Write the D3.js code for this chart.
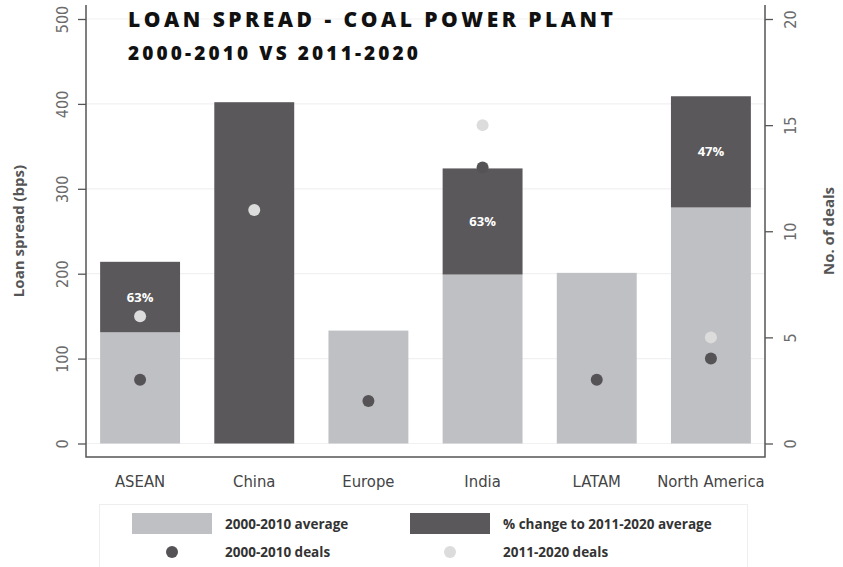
<!DOCTYPE html>
<html>
<head>
<meta charset="utf-8">
<script src="https://cdn.jsdelivr.net/npm/d3@7"></script>
<style>
  html, body { margin: 0; padding: 0; background: #fff; }
  svg { display: block; }
</style>
</head>
<body>
<svg id="chart" width="843" height="567"></svg>
<script>
// ---------------- DATA ----------------
const categories = ["ASEAN", "China", "Europe", "India", "LATAM", "North America"];
const avg2000_2010 = [131, null, 133, 199, 201, 278];     // bps
const avg2011_2020 = [214, 402, null, 324, null, 409];    // bps
const pctChange = [63, null, null, 63, null, 47];         // %
const deals2000_2010 = [3, null, 2, 13, 3, 4];
const deals2011_2020 = [6, 11, null, 15, null, 5];
const leftTicks = [0, 100, 200, 300, 400, 500];
const rightTicks = [0, 5, 10, 15, 20];
const title = "LOAN SPREAD - COAL POWER PLANT";
const subtitle = "2000-2010 VS 2011-2020";
const leftAxisTitle = "Loan spread (bps)";
const rightAxisTitle = "No. of deals";
const legendLabels = ["2000-2010 average", "% change to 2011-2020 average", "2000-2010 deals", "2011-2020 deals"];

// ---------------- STYLE ----------------
const C_LIGHT = "#bfc0c4", C_DARK = "#5a585a", C_DOT_DARK = "#555356", C_DOT_LIGHT = "#dcdcdc";
const AXIS = "#555";
const narrow = "'Liberation Sans Narrow', 'DejaVu Sans Condensed', 'Roboto', sans-serif";
const bold = "'Open Sans', 'Noto Sans', sans-serif";

const svg = d3.select("#chart");
const L = 86, R = 765, T = 5, B = 457;

const x = d3.scaleBand().domain(categories).range([83, 768]).paddingInner(0.3).paddingOuter(0.15);
const y = d3.scaleLinear().domain([0, 500]).range([443.5, 19]);
const y2 = d3.scaleLinear().domain([0, 20]).range([443.5, 19]);

const rows = categories.map((c, i) => ({
  c, base: avg2000_2010[i], total: avg2011_2020[i], pct: pctChange[i],
  d1: deals2000_2010[i], d2: deals2011_2020[i]
}));

// gridlines
svg.append("g").selectAll("line").data(leftTicks).join("line")
  .attr("x1", L).attr("x2", R).attr("y1", d => y(d)).attr("y2", d => y(d))
  .attr("stroke", "#f1f1f1").attr("stroke-width", 1.2);

// bars
const bars = svg.append("g");
bars.selectAll("rect.base").data(rows.filter(d => d.base != null)).join("rect")
  .attr("class", "base")
  .attr("x", d => x(d.c)).attr("width", x.bandwidth())
  .attr("y", d => y(d.base)).attr("height", d => y(0) - y(d.base))
  .attr("fill", C_LIGHT);
bars.selectAll("rect.chg").data(rows.filter(d => d.total != null)).join("rect")
  .attr("class", "chg")
  .attr("x", d => x(d.c)).attr("width", x.bandwidth())
  .attr("y", d => y(d.total)).attr("height", d => y(d.base || 0) - y(d.total))
  .attr("fill", C_DARK);

// pct labels
svg.append("g").selectAll("text").data(rows.filter(d => d.pct != null)).join("text")
  .attr("x", d => x(d.c) + x.bandwidth() / 2)
  .attr("y", d => (y(d.total) + y(d.base)) / 2)
  .attr("dy", "0.35em").attr("text-anchor", "middle")
  .attr("fill", "#fff").attr("font-family", bold).attr("font-weight", 700).attr("font-size", 13)
  .text(d => d.pct + "%");

// dots
const dots = svg.append("g");
dots.selectAll("circle.d1").data(rows.filter(d => d.d1 != null)).join("circle")
  .attr("cx", d => x(d.c) + x.bandwidth() / 2).attr("cy", d => y2(d.d1)).attr("r", 6)
  .attr("fill", C_DOT_DARK);
dots.selectAll("circle.d2").data(rows.filter(d => d.d2 != null)).join("circle")
  .attr("cx", d => x(d.c) + x.bandwidth() / 2).attr("cy", d => y2(d.d2)).attr("r", 6)
  .attr("fill", C_DOT_LIGHT);

// axes
const gl = svg.append("g").attr("transform", `translate(${L},0)`)
  .call(d3.axisLeft(y).tickValues(leftTicks).tickSize(8).tickSizeOuter(0));
gl.select(".domain").remove();
gl.selectAll("line").attr("stroke", AXIS).attr("stroke-width", 1.3);
gl.selectAll("text").attr("transform", "rotate(-90)").attr("x", 0).attr("y", -24).attr("dy", "0.35em")
  .attr("text-anchor", "middle").attr("font-family", narrow).attr("font-size", 16).attr("fill", "#6a6a6a");

const gr = svg.append("g").attr("transform", `translate(${R},0)`)
  .call(d3.axisRight(y2).tickValues(rightTicks).tickSize(8).tickSizeOuter(0));
gr.select(".domain").remove();
gr.selectAll("line").attr("stroke", AXIS).attr("stroke-width", 1.3);
gr.selectAll("text").attr("transform", "rotate(-90)").attr("x", 0).attr("y", 25).attr("dy", "0.35em")
  .attr("text-anchor", "middle").attr("font-family", narrow).attr("font-size", 16).attr("fill", "#6a6a6a");

// frame
svg.append("path").attr("d", `M${L},${T}V${B}H${R}V${T}`)
  .attr("fill", "none").attr("stroke", AXIS).attr("stroke-width", 1.5);

// category labels
svg.append("g").selectAll("text").data(categories).join("text")
  .attr("x", d => x(d) + x.bandwidth() / 2).attr("y", 481).attr("dy", "0.35em")
  .attr("text-anchor", "middle").attr("font-family", narrow).attr("font-size", 16.5).attr("fill", "#444")
  .text(d => d);

// axis titles
svg.append("text").attr("transform", `translate(19,231) rotate(-90)`)
  .attr("text-anchor", "middle").attr("dy", "0.35em")
  .attr("font-family", bold).attr("font-weight", 700).attr("font-size", 15).attr("fill", "#555")
  .text(leftAxisTitle);
svg.append("text").attr("transform", `translate(829,231) rotate(-90)`)
  .attr("text-anchor", "middle").attr("dy", "0.35em")
  .attr("font-family", bold).attr("font-weight", 700).attr("font-size", 15).attr("fill", "#555")
  .text(rightAxisTitle);

// title
svg.append("text").attr("x", 128).attr("y", 27)
  .attr("font-family", bold).attr("font-weight", 800).attr("font-size", 21).attr("fill", "#111")
  .attr("textLength", 485).attr("lengthAdjust", "spacing")
  .text(title);
svg.append("text").attr("x", 128).attr("y", 60)
  .attr("font-family", bold).attr("font-weight", 800).attr("font-size", 19).attr("fill", "#111")
  .attr("textLength", 290).attr("lengthAdjust", "spacing")
  .text(subtitle);

// legend
const lg = svg.append("g");
lg.append("rect").attr("x", 99.5).attr("y", 504.5).attr("width", 648).attr("height", 80)
  .attr("fill", "none").attr("stroke", "#eeeeee");
const legendItems = [
  { type: "rect", color: C_LIGHT, sx: 132, tx: 225, ty: 524, label: legendLabels[0] },
  { type: "rect", color: C_DARK, sx: 410, tx: 503, ty: 524, label: legendLabels[1] },
  { type: "dot", color: C_DOT_DARK, sx: 132, tx: 225, ty: 552, label: legendLabels[2] },
  { type: "dot", color: C_DOT_LIGHT, sx: 410, tx: 503, ty: 552, label: legendLabels[3] }
];
legendItems.forEach(it => {
  if (it.type === "rect") {
    lg.append("rect").attr("x", it.sx).attr("y", it.ty - 11).attr("width", 80).attr("height", 21).attr("fill", it.color);
  } else {
    lg.append("circle").attr("cx", it.sx + 40).attr("cy", it.ty).attr("r", 6).attr("fill", it.color);
  }
  lg.append("text").attr("x", it.tx).attr("y", it.ty).attr("dy", "0.35em")
    .attr("font-family", bold).attr("font-weight", 700).attr("font-size", 13.5).attr("fill", "#333")
    .text(it.label);
});
</script>
</body>
</html>
